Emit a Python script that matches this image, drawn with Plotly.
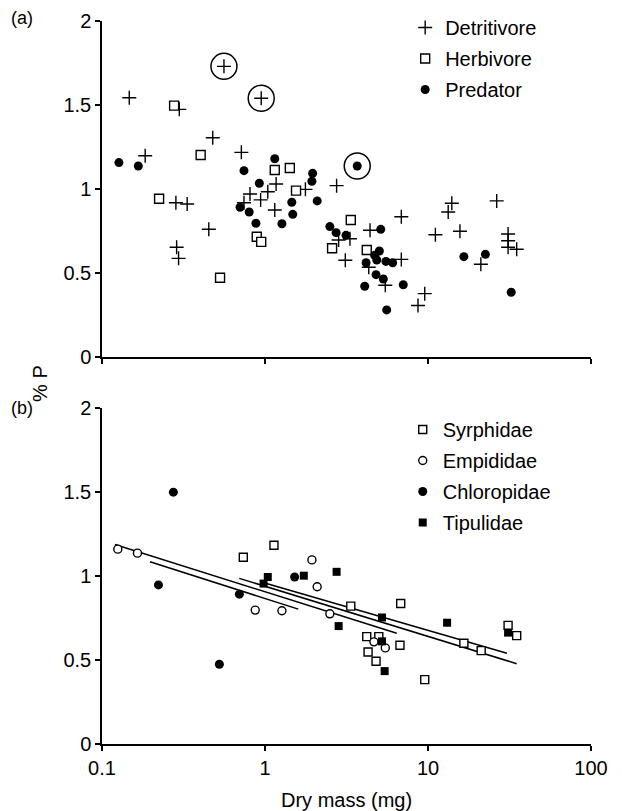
import plotly.graph_objects as go

# ---------------- Panel (a) data ----------------
det_x = [0.56, 0.948, 0.147, 0.298, 0.478, 0.716, 0.184, 0.809, 0.94, 0.284, 0.333, 0.743,
         1.04, 0.452, 0.287, 0.295, 1.17, 1.148, 2.75, 1.77, 2.83, 3.32, 4.41, 6.86, 3.11,
         4.33, 6.86, 5.47, 9.55, 8.68, 14.0, 13.3, 26.4, 11.1, 15.7, 31.0, 31.0, 31.0, 35.0, 21.1]
det_y = [1.73, 1.54, 1.543, 1.474, 1.305, 1.218, 1.198, 0.97, 0.935, 0.918, 0.911, 0.918,
         0.984, 0.76, 0.653, 0.587, 1.03, 0.875, 1.02, 0.998, 0.696, 0.704, 0.754, 0.835, 0.576,
         0.534, 0.581, 0.427, 0.377, 0.306, 0.915, 0.863, 0.929, 0.728, 0.748, 0.732, 0.692, 0.653, 0.641, 0.552]

herb_x = [0.277, 0.403, 0.224, 0.89, 0.948, 0.53, 1.148, 1.42, 1.55, 3.36, 2.58, 4.21]
herb_y = [1.496, 1.202, 0.942, 0.716, 0.685, 0.472, 1.113, 1.125, 0.99, 0.815, 0.647, 0.637]

pred_x = [0.127, 0.167, 0.743, 0.923, 0.703, 0.80, 0.88, 1.148, 3.68, 1.96, 1.94, 1.46, 2.09,
          1.48, 1.27, 2.5, 2.73, 3.14, 5.13, 5.03, 4.71, 4.85, 4.17, 5.52, 6.07, 4.8, 5.32,
          4.09, 7.05, 5.58, 16.6, 22.5, 32.4]
pred_y = [1.157, 1.137, 1.109, 1.034, 0.891, 0.863, 0.796, 1.18, 1.137, 1.093, 1.046, 0.921, 0.929,
          0.849, 0.793, 0.776, 0.74, 0.724, 0.76, 0.631, 0.605, 0.577, 0.561, 0.569, 0.561, 0.49, 0.464,
          0.421, 0.43, 0.28, 0.597, 0.611, 0.385]

# circled outliers (indices into the series above)
det_outliers = [0, 1]
pred_outliers = [8]

# ---------------- Panel (b) data ----------------
syr_x = [0.736, 1.135, 3.36, 6.8, 4.21, 4.99, 6.73, 4.29, 4.8, 9.55, 16.6, 21.2, 31.0, 35.0]
syr_y = [1.112, 1.183, 0.821, 0.836, 0.639, 0.639, 0.588, 0.548, 0.493, 0.383, 0.6, 0.556, 0.706, 0.645]
emp_x = [0.125, 0.165, 1.94, 2.09, 0.871, 1.27, 2.5, 4.66, 5.47]
emp_y = [1.16, 1.136, 1.096, 0.936, 0.797, 0.793, 0.775, 0.608, 0.572]
chl_x = [0.274, 0.222, 0.696, 0.525, 1.52]
chl_y = [1.499, 0.947, 0.892, 0.475, 0.994]
tip_x = [1.04, 0.98, 1.73, 2.75, 5.22, 2.83, 5.22, 5.42, 13.1, 31.0]
tip_y = [0.994, 0.955, 1.002, 1.025, 0.753, 0.702, 0.611, 0.434, 0.722, 0.663]

# regression line end points (x, y) per family
fit_emp_x = [0.12, 6.43]
fit_emp_y = [1.188, 0.659]
fit_chl_x = [0.197, 1.6]
fit_chl_y = [1.085, 0.803]
fit_syr_x = [0.695, 35.0]
fit_syr_y = [0.986, 0.478]
fit_tip_x = [0.96, 30.5]
fit_tip_y = [0.963, 0.54]

x_ticks = [0.1, 1, 10, 100]
x_ticklabels = ["0.1", "1", "10", "100"]
y_ticks = [0, 0.5, 1, 1.5, 2]
y_ticklabels = ["0", "0.5", "1", "1.5", "2"]

FONT = "Liberation Sans, Arial, sans-serif"
BLACK = "black"
FS = 20

fig = go.Figure()

# ---- panel (a) ----
fig.add_trace(go.Scatter(x=det_x, y=det_y, mode="markers", name="Detritivore",
                         marker=dict(symbol="cross-thin-open", size=10, color=BLACK,
                                     line=dict(color=BLACK, width=1.4)),
                         xaxis="x", yaxis="y", legend="legend", legendgroup="a1"))
fig.add_trace(go.Scatter(x=herb_x, y=herb_y, mode="markers", name="Herbivore",
                         marker=dict(symbol="square", size=9, color="white", line=dict(color=BLACK, width=1.4)),
                         xaxis="x", yaxis="y", legend="legend", legendgroup="a2"))
fig.add_trace(go.Scatter(x=pred_x, y=pred_y, mode="markers", name="Predator",
                         marker=dict(symbol="circle", size=9, color=BLACK),
                         xaxis="x", yaxis="y", legend="legend", legendgroup="a3"))
out_x = [det_x[i] for i in det_outliers] + [pred_x[i] for i in pred_outliers]
out_y = [det_y[i] for i in det_outliers] + [pred_y[i] for i in pred_outliers]
fig.add_trace(go.Scatter(x=out_x, y=out_y, mode="markers", showlegend=False,
                         marker=dict(symbol="circle-open", size=26, color=BLACK, line=dict(color=BLACK, width=1.5)),
                         xaxis="x", yaxis="y"))

# ---- panel (b) ----
for fx, fy in [(fit_emp_x, fit_emp_y), (fit_chl_x, fit_chl_y), (fit_syr_x, fit_syr_y), (fit_tip_x, fit_tip_y)]:
    fig.add_trace(go.Scatter(x=fx, y=fy, mode="lines", showlegend=False,
                             line=dict(color=BLACK, width=1.5), xaxis="x2", yaxis="y2"))

fig.add_trace(go.Scatter(x=syr_x, y=syr_y, mode="markers", name="Syrphidae",
                         marker=dict(symbol="square", size=8, color="white", line=dict(color=BLACK, width=1.4)),
                         xaxis="x2", yaxis="y2", legend="legend2", legendgroup="b1"))
fig.add_trace(go.Scatter(x=emp_x, y=emp_y, mode="markers", name="Empididae",
                         marker=dict(symbol="circle", size=8, color="white", line=dict(color=BLACK, width=1.4)),
                         xaxis="x2", yaxis="y2", legend="legend2", legendgroup="b2"))
fig.add_trace(go.Scatter(x=chl_x, y=chl_y, mode="markers", name="Chloropidae",
                         marker=dict(symbol="circle", size=9, color=BLACK),
                         xaxis="x2", yaxis="y2", legend="legend2", legendgroup="b3"))
fig.add_trace(go.Scatter(x=tip_x, y=tip_y, mode="markers", name="Tipulidae",
                         marker=dict(symbol="square", size=8, color=BLACK),
                         xaxis="x2", yaxis="y2", legend="legend2", legendgroup="b4"))

axis_common = dict(showline=True, linecolor=BLACK, linewidth=1.5, ticks="outside", ticklen=5,
                   tickwidth=1.5, tickcolor=BLACK, showgrid=False, zeroline=False,
                   tickfont=dict(family=FONT, size=FS, color=BLACK))

fig.update_layout(
    width=606, height=803,
    margin=dict(l=94, r=23, t=13, b=67, autoexpand=False),
    paper_bgcolor="white", plot_bgcolor="white",
    font=dict(family=FONT, size=FS, color=BLACK),
    xaxis=dict(type="log", range=[-1, 2], domain=[0, 1], anchor="y", tickvals=x_ticks,
               showticklabels=False, **axis_common),
    yaxis=dict(range=[0, 2], domain=[0.5353, 1], anchor="x", tickvals=y_ticks,
               ticktext=y_ticklabels, **axis_common),
    xaxis2=dict(type="log", range=[-1, 2], domain=[0, 1], anchor="y2", tickvals=x_ticks,
                ticktext=x_ticklabels, **axis_common),
    yaxis2=dict(range=[0, 2], domain=[0, 0.4647], anchor="x2", tickvals=y_ticks,
                ticktext=y_ticklabels, **axis_common),
    legend=dict(x=0.62, xanchor="left", y=1.018, yanchor="top", bgcolor="rgba(0,0,0,0)",
                font=dict(family=FONT, size=FS, color=BLACK), tracegroupgap=2,
                itemwidth=30),
    legend2=dict(x=0.615, xanchor="left", y=0.462, yanchor="top", bgcolor="rgba(0,0,0,0)",
                 font=dict(family=FONT, size=FS, color=BLACK), tracegroupgap=2,
                 itemwidth=30),
    annotations=[
        dict(text="(a)", x=-0.19, y=1.004, xref="paper", yref="paper", showarrow=False,
             xanchor="left", yanchor="middle", font=dict(family=FONT, size=18, color=BLACK)),
        dict(text="(b)", x=-0.19, y=0.4647, xref="paper", yref="paper", showarrow=False,
             xanchor="left", yanchor="middle", font=dict(family=FONT, size=18, color=BLACK)),
        dict(text="% P", x=-0.127, y=0.4993, xref="paper", yref="paper", showarrow=False,
             textangle=-90, xanchor="center", yanchor="middle", font=dict(family=FONT, size=FS, color=BLACK)),
        dict(text="Dry mass (mg)", x=0.5, y=-0.0775, xref="paper", yref="paper", showarrow=False,
             xanchor="center", yanchor="middle", font=dict(family=FONT, size=FS, color=BLACK)),
    ],
)

fig.write_html("out.html")
